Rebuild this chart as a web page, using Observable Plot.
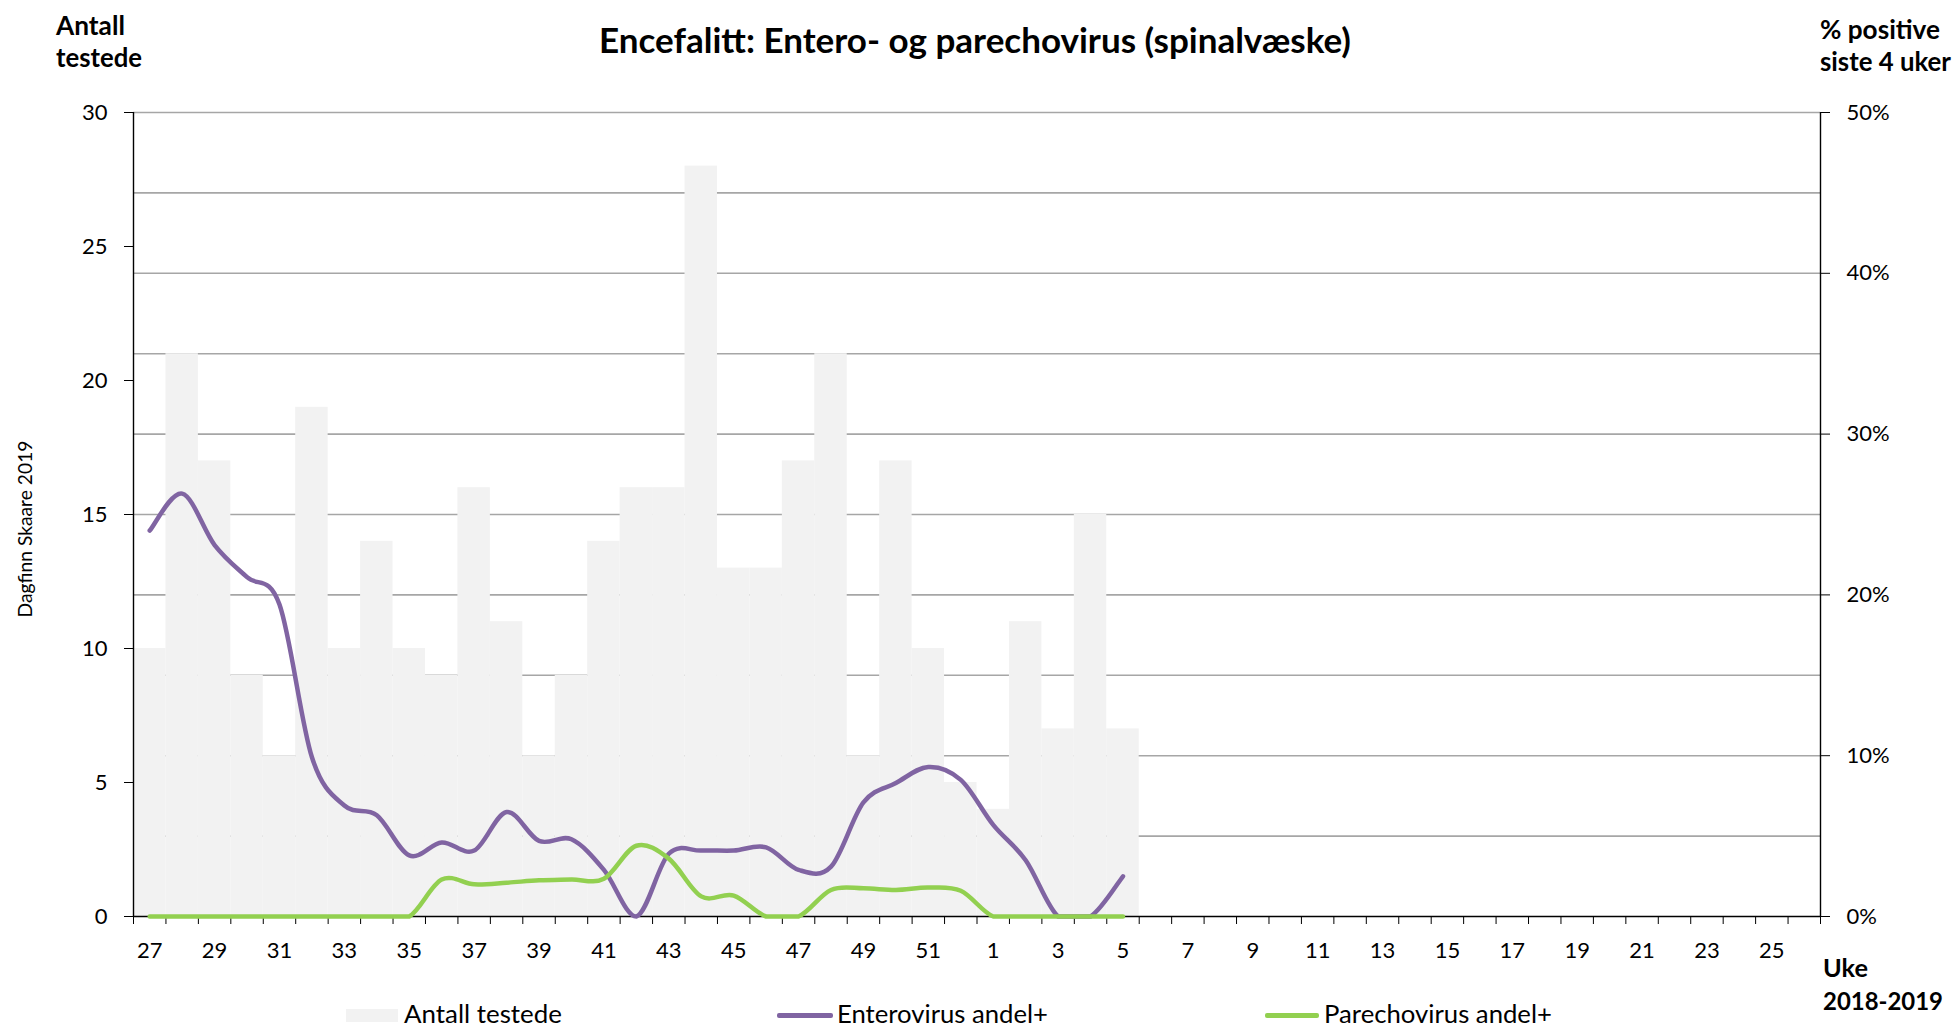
<!DOCTYPE html>
<html>
<head>
<meta charset="utf-8">
<script src="https://cdn.jsdelivr.net/npm/d3@7"></script>
<script src="https://cdn.jsdelivr.net/npm/@observablehq/plot@0.6"></script>
<style>
  html, body { margin: 0; padding: 0; background: #fff; }
  #wrap { position: relative; width: 1955px; height: 1029px; font-family: Lato, "Open Sans", sans-serif; color: #000; }
  #chart { position: absolute; left: 0; top: 0; }
  .t { position: absolute; white-space: nowrap; line-height: 1; transform: translateY(-50%); }
  .b { font-weight: 700; }
  .sw { position: absolute; }
</style>
</head>
<body>
<div id="wrap">
  <div id="chart"></div>
  <div class="t b" id="title" data-w="752" data-cx="975" data-cy="38.5" style="font-size:28px">Encefalitt: Entero- og parechovirus (spinalvæske)</div>
  <div class="t b" id="yl1" data-w="69" data-x="56" data-cy="25" style="font-size:22px">Antall</div>
  <div class="t b" id="yl2" data-w="86" data-x="56" data-cy="58" style="font-size:22px">testede</div>
  <div class="t b" id="yr1" data-w="120" data-x="1820" data-cy="29" style="font-size:22px">% positive</div>
  <div class="t b" id="yr2" data-w="131" data-x="1820" data-cy="62" style="font-size:22px">siste 4 uker</div>
  <div class="t b" id="xl1" data-w="45" data-x="1823" data-cy="968" style="font-size:22px">Uke</div>
  <div class="t b" id="xl2" data-w="120" data-x="1823" data-cy="1001" style="font-size:22px">2018-2019</div>
  <div class="sw" style="left:346px;top:1009px;width:52px;height:13px;background:#f2f2f2"></div>
  <div class="t" id="lg1" data-w="158" data-x="404" data-cy="1013.5" style="font-size:20px">Antall testede</div>
  <div class="sw" style="left:777px;top:1013px;width:56px;height:5px;border-radius:2px;background:#8064a2"></div>
  <div class="t" id="lg2" data-w="211" data-x="837" data-cy="1013.5" style="font-size:20px">Enterovirus andel+</div>
  <div class="sw" style="left:1265px;top:1013px;width:54px;height:5px;border-radius:2px;background:#92d050"></div>
  <div class="t" id="lg3" data-w="228" data-x="1324" data-cy="1013.5" style="font-size:20px">Parechovirus andel+</div>
  <div class="t" id="wm" data-w="177" style="font-size:14px">Dagfinn Skaare 2019</div>
</div>
<script>
// ---- data (weeks 27/2018 .. 26/2019) ----
const weekLabels = [27,28,29,30,31,32,33,34,35,36,37,38,39,40,41,42,43,44,45,46,47,48,49,50,51,52,
                    1,2,3,4,5,6,7,8,9,10,11,12,13,14,15,16,17,18,19,20,21,22,23,24,25,26];
// Antall testede (weeks 27..52, 1..5)
const antall = [10,21,17,9,6,19,10,14,10,9,16,11,6,9,14,16,16,28,13,13,17,21,6,17,10,5,4,11,7,15,7];
// Enterovirus andel+ (% positive siste 4 uker)
const entero = [24.0,26.3,23.1,21.1,19.4,9.9,6.9,6.3,3.8,4.6,4.1,6.5,4.7,4.8,2.9,0,3.9,4.1,4.1,4.3,2.9,3.1,7.1,8.3,9.3,8.5,5.7,3.5,0,0,2.5];
// Parechovirus andel+ (% positive siste 4 uker)
const parecho = [0,0,0,0,0,0,0,0,0,2.3,2.0,2.1,2.25,2.3,2.35,4.4,3.6,1.25,1.3,0,0,1.65,1.75,1.65,1.8,1.6,0,0,0,0,0];

const leftTicks = [0,5,10,15,20,25,30];
const rightTicksPct = [0,10,20,30,40,50];
const gridPct = [5,10,15,20,25,30,35,40,45,50];
const leftMax = 30, rightMax = 50;
const pctToLeft = p => p * leftMax / rightMax;

const rows = antall.map((v, i) => ({i, week: weekLabels[i], antall: v, entero: entero[i], parecho: parecho[i]}));
const nWeeks = weekLabels.length;

// Excel-like smoothed line: uniform Catmull-Rom Bezier; control points are kept from dipping below the lowest point
function SmoothCurve(context) { this._context = context; }
SmoothCurve.prototype = {
  areaStart() {}, areaEnd() {},
  lineStart() { this._pts = []; },
  point(x, y) { this._pts.push([+x, +y]); },
  lineEnd() {
    const p = this._pts, n = p.length, c = this._context;
    if (!n) return;
    const floor = Math.max(...p.map(d => d[1]));
    c.moveTo(p[0][0], p[0][1]);
    for (let i = 0; i < n - 1; i++) {
      const p0 = p[Math.max(0, i - 1)], p1 = p[i], p2 = p[i + 1], p3 = p[Math.min(n - 1, i + 2)];
      const c1x = p1[0] + (p2[0] - p0[0]) / 6;
      const c1y = Math.min(floor, p1[1] + (p2[1] - p0[1]) / 6);
      const c2x = p2[0] - (p3[0] - p1[0]) / 6;
      const c2y = Math.min(floor, p2[1] - (p3[1] - p1[1]) / 6);
      c.bezierCurveTo(c1x, c1y, c2x, c2y, p2[0], p2[1]);
    }
  }
};
const smooth = ctx => new SmoothCurve(ctx);

const chart = Plot.plot({
  width: 1955,
  height: 1029,
  marginTop: 112,
  marginBottom: 113,
  marginLeft: 133,
  marginRight: 135,
  x: {domain: [0, nWeeks], axis: null},
  y: {domain: [0, leftMax], axis: null},
  style: {fontFamily: "Lato, 'Open Sans', sans-serif", fontSize: "22px", color: "#000", background: "transparent", overflow: "visible"},
  marks: [
    Plot.ruleY(gridPct.map(pctToLeft), {stroke: "#a6a6a6", strokeWidth: 1.6}),
    Plot.rectY(rows, {x1: "i", x2: d => d.i + 1, y: "antall", fill: "#f2f2f2"}),
    Plot.ruleX([0, nWeeks], {stroke: "#000", strokeWidth: 1.4}),
    Plot.ruleY([0], {stroke: "#000", strokeWidth: 1.4}),
    Plot.axisY(leftTicks, {anchor: "left", tickSize: 9, tickPadding: 17, fontSize: 22, label: null}),
    Plot.axisY(rightTicksPct.map(pctToLeft), {anchor: "right", tickSize: 9, tickPadding: 17, fontSize: 22, label: null,
      tickFormat: d => Math.round(d * rightMax / leftMax) + "%"}),
    Plot.axisX(d3.range(0, nWeeks + 1), {tickSize: 8, tickFormat: () => "", label: null}),
    Plot.axisX(d3.range(0, nWeeks, 2).map(i => i + 0.5), {tickSize: 0, tickPadding: 26, fontSize: 22, label: null,
      tickFormat: d => String(weekLabels[Math.floor(d)])}),
    Plot.line(rows, {x: d => d.i + 0.5, y: d => pctToLeft(d.entero), stroke: "#8064a2", strokeWidth: 4.5,
      curve: smooth, strokeLinecap: "round"}),
    Plot.line(rows, {x: d => d.i + 0.5, y: d => pctToLeft(d.parecho), stroke: "#92d050", strokeWidth: 4.5,
      curve: smooth, strokeLinecap: "round"})
  ]
});
document.getElementById("chart").appendChild(chart);

// fit text widths and position
document.querySelectorAll("#wrap .t").forEach(el => {
  const w = +el.dataset.w;
  const r = el.getBoundingClientRect().width;
  const fs = parseFloat(getComputedStyle(el).fontSize);
  if (w && r) el.style.fontSize = (fs * w / r).toFixed(2) + "px";
  if (el.id === "wm") {
    el.style.left = "25px"; el.style.top = "529px";
    el.style.transform = "translate(-50%, -50%) rotate(-90deg)";
  } else if (el.dataset.cx) {
    el.style.left = el.dataset.cx + "px"; el.style.top = el.dataset.cy + "px";
    el.style.transform = "translate(-50%, -50%)";
  } else {
    el.style.left = el.dataset.x + "px"; el.style.top = el.dataset.cy + "px";
  }
});
</script>
</body>
</html>
